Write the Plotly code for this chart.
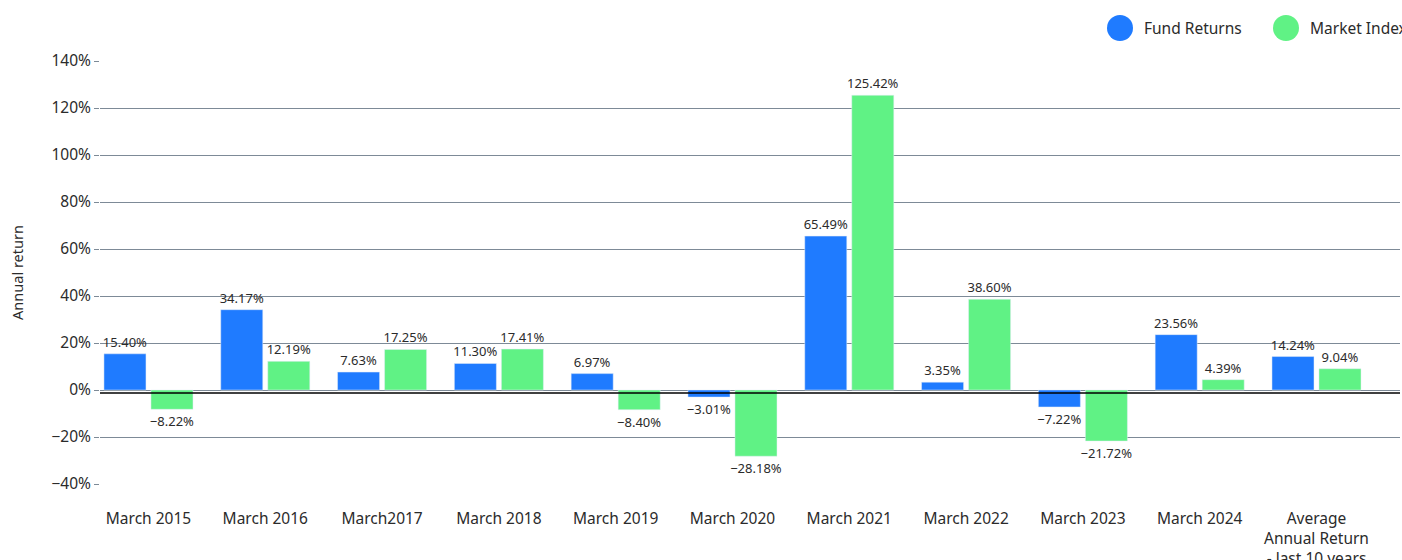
import plotly.graph_objects as go

categories = ["March 2015", "March 2016", "March2017", "March 2018", "March 2019",
              "March 2020", "March 2021", "March 2022", "March 2023", "March 2024",
              "Average<br>Annual Return<br>- last 10 years"]
fund_returns = [15.40, 34.17, 7.63, 11.30, 6.97, -3.01, 65.49, 3.35, -7.22, 23.56, 14.24]
market_index = [-8.22, 12.19, 17.25, 17.41, -8.40, -28.18, 125.42, 38.60, -21.72, 4.39, 9.04]
y_ticks = [-40, -20, 0, 20, 40, 60, 80, 100, 120, 140]
y_tick_labels = ["−40%", "−20%", "0%", "20%", "40%", "60%", "80%", "100%", "120%", "140%"]

BLUE = "#1f7bff"
GREEN = "#60f285"
FONT = "Noto Sans"
TXT = "#2b2b2b"


def pct_label(v):
    return f"{v:.2f}%".replace("-", "\u2212")


x_idx = list(range(len(categories)))

fig = go.Figure()
fig.add_trace(go.Bar(x=x_idx, y=fund_returns, name="Fund Returns", marker_color=BLUE,
                     text=[pct_label(v) for v in fund_returns], texttemplate="%{text}",
                     textposition="outside", constraintext="none",
                     cliponaxis=False, textfont=dict(size=13, color=TXT, family=FONT)))
fig.add_trace(go.Bar(x=x_idx, y=market_index, name="Market Index", marker_color=GREEN,
                     text=[pct_label(v) for v in market_index], texttemplate="%{text}",
                     textposition="outside", constraintext="none",
                     cliponaxis=False, textfont=dict(size=13, color=TXT, family=FONT)))

# body margin is removed in the page (post_script), so figure coords = screen coords
W, H = 1402, 560
ml, mr, mt, mb = 100, 2, 61, 76

fig.update_layout(
    width=W, height=H,
    margin=dict(l=ml, r=mr, t=mt, b=mb, autoexpand=False),
    plot_bgcolor="white", paper_bgcolor="white",
    barmode="group", bargap=0.195, bargroupgap=0.106,
    showlegend=False,
    font=dict(family=FONT, size=14, color=TXT),
    xaxis=dict(tickmode="array", tickvals=x_idx, ticktext=categories,
               range=[-0.415, 10.715], showgrid=False, zeroline=False, showline=False,
               ticks="", tickfont=dict(size=15.5, color=TXT), ticklabelstandoff=23,
               automargin=False),
    yaxis=dict(tickmode="array", tickvals=y_ticks, ticktext=y_tick_labels,
               range=[-40, 140], showgrid=True, gridcolor="#7d8a97", gridwidth=1,
               zeroline=False, showline=False, ticks="outside", ticklen=5, tickcolor="#7d8a97",
               tickfont=dict(size=15.5, color=TXT), automargin=False,
               title=dict(text="Annual return", font=dict(size=14.5, color=TXT), standoff=24)),
)

# black baseline just below the 0% gridline
fig.add_shape(type="line", xref="paper", x0=0, x1=1, yref="y", ysizemode="pixel",
              yanchor=0, y0=-3, y1=-3, line=dict(color="black", width=1.6))

# custom legend with large circles (positions given in screen pixels)
def px_to_paper_x(px):
    return (px - ml) / (W - ml - mr)

def px_to_paper_y(py):
    return (H - mb - py) / (H - mt - mb)

legend_items = [("Fund Returns", BLUE, 1120, 1142), ("Market Index", GREEN, 1286, 1308)]
for label, color, cx, tx in legend_items:
    fig.add_shape(type="circle", xref="paper", yref="paper",
                  xsizemode="pixel", ysizemode="pixel",
                  xanchor=px_to_paper_x(cx), yanchor=px_to_paper_y(28),
                  x0=-13, x1=13, y0=-13, y1=13,
                  fillcolor=color, line=dict(width=0))
    fig.add_annotation(text=label, xref="paper", yref="paper",
                       x=px_to_paper_x(tx), y=px_to_paper_y(28),
                       xanchor="left", yanchor="middle", showarrow=False,
                       font=dict(size=15.5, color=TXT, family=FONT))

fig.write_html("out.html",
               config={"displayModeBar": False},
               post_script="document.body.style.margin='0';document.body.style.overflow='hidden';")
